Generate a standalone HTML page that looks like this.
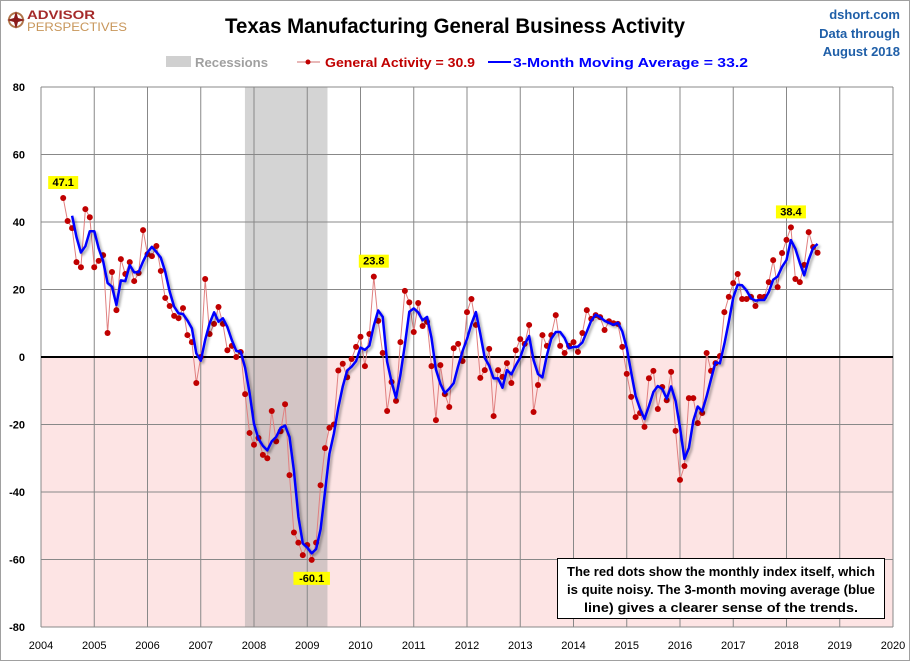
<!DOCTYPE html>
<html><head><meta charset="utf-8"><style>
body{margin:0;background:#fff;}
svg{display:block;font-family:"Liberation Sans",sans-serif;}
</style></head><body>
<svg id="chart" width="910" height="661" viewBox="0 0 910 661">
<defs><filter id="sh" x="-5%" y="-5%" width="110%" height="110%"><feDropShadow dx="2" dy="2" stdDeviation="1.2" flood-color="#000" flood-opacity="0.35"/></filter></defs>
<rect x="0.5" y="0.5" width="909" height="660" fill="#fff" stroke="#a0a0a0"/>
<g>
<circle cx="16" cy="20" r="7" fill="none" stroke="#b0754a" stroke-width="2"/>
<path d="M16 11 L18 18 L25 20 L18 22 L16 29 L14 22 L7 20 L14 18Z" fill="#8b1a1a"/>
<text x="27" y="19" font-size="12" font-weight="bold" fill="#a52a2a" textLength="68" lengthAdjust="spacingAndGlyphs">ADVISOR</text>
<text x="27" y="31" font-size="12" fill="#c8965a" textLength="100" lengthAdjust="spacingAndGlyphs">PERSPECTIVES</text>
</g>
<text x="455" y="33" text-anchor="middle" font-size="21" font-weight="bold" fill="#000" textLength="460" lengthAdjust="spacingAndGlyphs">Texas Manufacturing General Business Activity</text>
<g font-size="13" font-weight="bold" fill="#1f5fa8" text-anchor="end">
<text x="900" y="19">dshort.com</text><text x="900" y="38">Data through</text><text x="900" y="56">August 2018</text></g>
<g font-size="13" font-weight="bold">
<g><rect x="166" y="56" width="25" height="11" fill="#d0d0d0"/><text x="195" y="67" fill="#a0a0a0" textLength="73" lengthAdjust="spacingAndGlyphs">Recessions</text></g>
<g><line x1="297" y1="62" x2="320" y2="62" stroke="#d07070"/><circle cx="308" cy="62" r="2.5" fill="#c00000"/><text x="325" y="67" fill="#c00000" textLength="150" lengthAdjust="spacingAndGlyphs">General Activity = 30.9</text></g>
<g><line x1="488" y1="62" x2="511" y2="62" stroke="#0000ff" stroke-width="2"/><text x="513" y="67" fill="#0000ff" textLength="235" lengthAdjust="spacingAndGlyphs">3-Month Moving Average = 33.2</text></g>
</g>
<g id="plot"></g>
</svg>
<script>
const startYear = 2004, startMonth = 5; // June 2004 (0-based month)
const activity = [
47.1,40.3,38.2,28.1,26.6,43.8,41.4,
26.6,28.5,30.2,7.1,25.2,13.9,29.0,24.6,28.1,22.5,24.9,37.6,
30.5,29.9,32.9,25.5,17.5,15.1,12.2,11.5,14.5,6.5,4.4,-7.7,
0,23.1,6.8,9.8,14.8,9.8,2,3.3,0,1.5,-11,-22.5,
-26,-24,-29,-30,-16,-25,-22,-14,-35,-52,-55,-58.7,
-55.7,-60.1,-55,-38,-27,-21,-20,-4,-2,-6,-0.6,3,
6,-2.7,6.8,23.8,10.7,1.2,-16,-7.4,-13,4.4,19.6,16.2,
7.4,16,9.2,10.4,-2.7,-18.7,-2.4,-11,-14.8,2.6,3.9,-1.2,
13.3,17.2,9.5,-6.2,-3.9,2.4,-17.5,-3.9,-5.9,-1.8,-7.7,2,
5.3,3.9,9.5,-16.3,-8.3,6.5,3.3,6.5,12.4,3.3,1.2,3.3,
4.4,1.5,7.1,13.9,11.3,12.4,11.8,8,10.6,10,9.8,3,
-5,-11.8,-17.8,-16.6,-20.7,-6.3,-4.1,-15.4,-8.9,-12.8,-4.4,-21.9,
-36.4,-32.3,-12.2,-12.2,-19.6,-16.6,1.2,-4.1,-1.8,0.3,13.3,17.8,
21.9,24.6,17.2,17.2,17.8,15.1,17.8,17.8,22.2,28.7,20.7,30.8,
34.7,38.4,23.1,22.2,27.3,37,32.6,30.9];
const yTicks = [80,60,40,20,0,-20,-40,-60,-80];
const xTicks = [2004,2005,2006,2007,2008,2009,2010,2011,2012,2013,2014,2015,2016,2017,2018,2019,2020];
const recessionStart = 2007.83, recessionEnd = 2009.38;
const labels = [{v:47.1,i:0,dy:-12},{v:23.8,i:70,dy:-12},{v:-60.1,i:56,dy:22},{v:38.4,i:164,dy:-12}];

const X0=41,X1=893,Y0=87,Y1=627;
const xs = t => X0 + (t-2004)/(2020-2004)*(X1-X0);
const ys = v => Y0 + (80-v)/160*(Y1-Y0);
const tOf = i => startYear + (startMonth+i)/12;
const NS='http://www.w3.org/2000/svg';
const plot=document.getElementById('plot');
function mk(tag,attrs,parent){const e=document.createElementNS(NS,tag);for(const k in attrs)e.setAttribute(k,attrs[k]);(parent||plot).appendChild(e);return e;}

const neg=mk('rect',{x:X0,y:ys(0),width:X1-X0,height:Y1-ys(0),fill:'#fde4e4'});


const rec=mk('rect',{x:xs(recessionStart),y:Y0,width:xs(recessionEnd)-xs(recessionStart),height:Y1-Y0,fill:'#a0a0a0','fill-opacity':0.45});


yTicks.forEach(v=>{
  if(v!==0){const g=mk('line',{x1:X0,x2:X1,y1:ys(v),y2:ys(v),stroke:'#888','stroke-width':1});
  
  }
  const t=mk('text',{x:25,y:ys(v)+4,'text-anchor':'end','font-size':11,'font-weight':'bold',fill:'#000'});
  t.textContent=v;
  
  
});
xTicks.forEach(yr=>{
  const g=mk('line',{x1:xs(yr),x2:xs(yr),y1:Y0,y2:Y1,stroke:'#888','stroke-width':1});
  
  
  const t=mk('text',{x:xs(yr),y:649,'text-anchor':'middle','font-size':11,fill:'#000'});
  t.textContent=yr;
  
  
});
const zl=mk('line',{x1:X0,x2:X1,y1:ys(0),y2:ys(0),stroke:'#000','stroke-width':2});



const pts=activity.map((v,i)=>xs(tOf(i)).toFixed(1)+','+ys(v).toFixed(1)).join(' ');
const rl=mk('polyline',{points:pts,fill:'none',stroke:'#e08080','stroke-width':1});


activity.forEach((v,i)=>{
  const c=mk('circle',{cx:xs(tOf(i)),cy:ys(v),r:3,fill:'#c00000'});
  
  
});
const ma=[];
for(let i=2;i<activity.length;i++)ma.push([i,(activity[i]+activity[i-1]+activity[i-2])/3]);
const bl=mk('polyline',{points:ma.map(([i,v])=>xs(tOf(i)).toFixed(1)+','+ys(v).toFixed(1)).join(' '),fill:'none',stroke:'#0000ff','stroke-width':2.5,'stroke-linejoin':'round',filter:'url(#sh)'});



labels.forEach(l=>{
  const x=xs(tOf(l.i)), y=ys(l.v)+l.dy;
  const s=String(l.v), w=s.length*6.5+4;
  const r=mk('rect',{x:x-w/2,y:y-10,width:w,height:13,fill:'#ffff00'});
  
  
  const t=mk('text',{x:x,y:y,'text-anchor':'middle','font-size':11,'font-weight':'bold',fill:'#000'});
  t.textContent=s;
  
  
});

const nb=mk('g',{});


mk('rect',{x:557.5,y:558.5,width:327,height:60,fill:'#fff',stroke:'#000','stroke-width':1},nb);
['The red dots show the monthly  index itself, which','is quite noisy. The 3-month moving average (blue','line) gives a clearer sense of the trends.'].forEach((s,k)=>{
  const t=mk('text',{x:721,y:576+k*18,'text-anchor':'middle','font-size':12.5,'font-weight':'bold',fill:'#000',textLength:k==2?274:308,lengthAdjust:'spacingAndGlyphs'},nb);
  t.textContent=s;
});
</script>
</body></html>
